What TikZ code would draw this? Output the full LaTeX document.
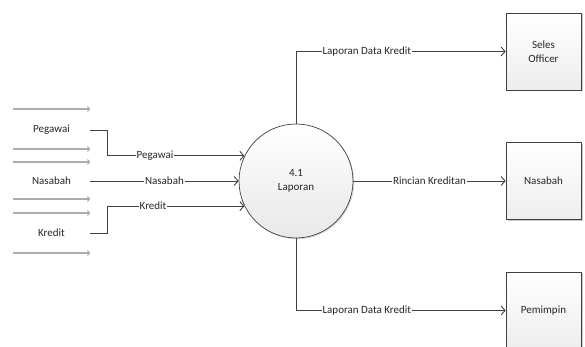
\documentclass[tikz,border=0pt]{standalone}
\usepackage{fontspec}
\setmainfont{Carlito}
\usetikzlibrary{arrows.meta,shadows,calc}
\definecolor{ln}{HTML}{404040}
\definecolor{tx}{HTML}{262626}
\tikzset{
  every node/.style={font=\fontsize{11}{14}\selectfont, text=tx},
  flow/.style={draw=ln, line width=0.9pt, -{Straight Barb[length=4pt,width=9pt]}},
  flowlbl/.style={fill=white, inner sep=0.8pt},
  storeline/.style={draw=gray!65, line width=1.1pt, -{Straight Barb[length=2pt,width=5pt]}},
  store/.style={minimum width=77pt, minimum height=40pt, inner sep=0pt},
  entity/.style={draw=ln, line width=0.7pt, minimum width=75pt, minimum height=77pt, align=center,
    top color=white, bottom color=black!7,
    drop shadow={shadow xshift=1.5pt, shadow yshift=-1.5pt, opacity=0.35, fill=black!60}},
  process/.style={circle, draw=ln, line width=0.7pt, minimum size=114pt, inner sep=0pt, align=center,
    top color=white, bottom color=black!9,
    drop shadow={shadow xshift=1.2pt, shadow yshift=-1.2pt, opacity=0.25, fill=black!60}}
}
\begin{document}
\begin{tikzpicture}[x=1pt,y=1pt]
\useasboundingbox (0,0) rectangle (585,347);
% process
\node[process] (proc) at (296,166) {4.1\\Laporan};
% entities
\node[entity] (seles) at (543.5,295.5) {Seles\\Officer};
\node[entity] (nasbox) at (543.5,166) {Nasabah};
\node[entity] (pem) at (543.5,36.5) {Pemimpin};
% data stores
\node[store] (dsPeg) at (51.5,217) {Pegawai};
\node[store] (dsNas) at (51.5,166) {Nasabah};
\node[store] (dsKre) at (51.5,114) {Kredit};
\foreach \s/\t/\b in {dsPeg/21/19, dsNas/19/18, dsKre/20/20}{
  \draw[storeline] ($(\s.west)+(0,\t)$) -- ($(\s.east)+(0,\t)$);
  \draw[storeline] ($(\s.west)+(0,-\b)$) -- ($(\s.east)+(0,-\b)$);
}
% inflows
\draw[flow] (dsPeg.east) -- ++(17,0) |- (proc.154) node[flowlbl, pos=0.674] {Pegawai};
\draw[flow] (dsNas.east) -- (proc.west) node[flowlbl, midway] {Nasabah};
\draw[flow] (dsKre.east) -- ++(17,0) |- (proc.206) node[flowlbl, pos=0.667] {Kredit};
% outflows
\draw[flow] (proc.north) |- (seles.west) node[flowlbl, pos=0.669] {Laporan Data Kredit};
\draw[flow] (proc.east) -- (nasbox.west) node[flowlbl, midway] {Rincian Kreditan};
\draw[flow] (proc.south) |- (pem.west) node[flowlbl, pos=0.669] {Laporan Data Kredit};
\end{tikzpicture}
\end{document}
